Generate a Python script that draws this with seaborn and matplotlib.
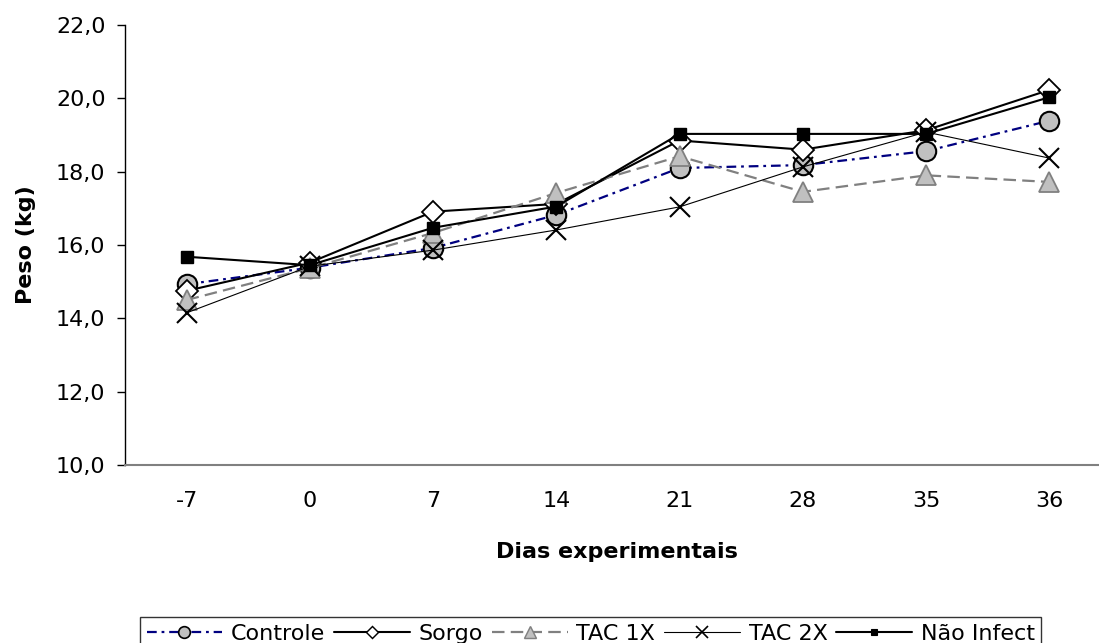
import matplotlib
matplotlib.use("Agg")
import matplotlib.pyplot as plt
import seaborn as sns
import numpy as np
from matplotlib.lines import Line2D
from matplotlib.ticker import FixedLocator, NullFormatter

days = ["-7", "0", "7", "14", "21", "28", "35", "36"]
controle = [14.93, 15.38, 15.92, 16.82, 18.10, 18.18, 18.56, 19.39]
sorgo = [14.75, 15.52, 16.91, 17.12, 18.85, 18.60, 19.13, 20.23]
tac1x = [14.50, 15.37, 16.33, 17.42, 18.42, 17.45, 17.90, 17.72]
tac2x = [14.15, 15.42, 15.86, 16.41, 17.04, 18.13, 19.08, 18.37]
nao_infect = [15.68, 15.45, 16.47, 17.05, 19.03, 19.03, 19.03, 20.03]
y_ticks = [10.0, 12.0, 14.0, 16.0, 18.0, 20.0, 22.0]

sns.set_style("white")
plt.rcParams["font.family"] = ["DejaVu Sans"]
plt.rcParams["lines.scale_dashes"] = False
for k in ["text.color", "axes.labelcolor", "xtick.color", "ytick.color"]:
    plt.rcParams[k] = "black"

FS = 16
fig = plt.figure(figsize=(10.99, 6.43), dpi=100)
ax = fig.add_axes([125 / 1099, 1 - 465 / 643, (1111 - 125) / 1099, (465 - 25) / 643])

x = np.arange(len(days))

series = [
    ("Controle", controle, dict(color="#000080", linestyle=(0, (7, 3.5, 2, 3.5)), linewidth=1.6,
                                marker="o", markersize=14, markerfacecolor="#C0C0C0",
                                markeredgecolor="black", markeredgewidth=1.5)),
    ("Sorgo", sorgo, dict(color="black", linestyle="-", linewidth=1.5,
                          marker="D", markersize=11, markerfacecolor="white",
                          markeredgecolor="black", markeredgewidth=1.3)),
    ("TAC 1X", tac1x, dict(color="#808080", linestyle=(0, (9, 4.5)), linewidth=1.6,
                           marker="^", markersize=15, markerfacecolor="#C0C0C0",
                           markeredgecolor="#808080", markeredgewidth=1.3)),
    ("TAC 2X", tac2x, dict(color="black", linestyle="-", linewidth=0.8,
                           marker="x", markersize=14, markerfacecolor="black",
                           markeredgecolor="black", markeredgewidth=1.5)),
    ("Não Infect", nao_infect, dict(color="black", linestyle="-", linewidth=1.5,
                                    marker="s", markersize=8, markerfacecolor="black",
                                    markeredgecolor="black", markeredgewidth=1)),
]

handles = []
for name, vals, kw in series:
    sns.lineplot(x=x, y=vals, ax=ax, sort=False, **kw)
    lkw = dict(kw)
    lkw["markersize"] = kw["markersize"] * 0.6
    lkw["markeredgewidth"] = kw["markeredgewidth"] * 0.8
    handles.append(Line2D([], [], **lkw))

ax.set_xlim(-0.5, len(days) - 0.5)
ax.set_ylim(10, 22)
ax.set_xticks(x)
ax.set_xticklabels(days, fontsize=FS)
ax.xaxis.set_minor_locator(FixedLocator(np.arange(-0.5, len(days), 1.0)))
ax.xaxis.set_minor_formatter(NullFormatter())
ax.tick_params(axis="x", which="major", length=0, pad=19)
ax.tick_params(axis="x", which="minor", length=6, width=1, direction="out", color="black")
ax.set_yticks(y_ticks)
ax.set_yticklabels([f"{v:.1f}".replace(".", ",") for v in y_ticks], fontsize=FS)
ax.tick_params(axis="y", length=6, width=1, direction="out", color="black", left=True, pad=8)

for s in ["top", "right"]:
    ax.spines[s].set_visible(False)
ax.spines["left"].set_color("black")
ax.spines["bottom"].set_color("#808080")
ax.spines["left"].set_linewidth(1)
ax.spines["bottom"].set_linewidth(1.5)

ax.set_xlabel("Dias experimentais", fontsize=FS, fontweight="bold")
ax.set_ylabel("Peso (kg)", fontsize=FS, fontweight="bold")
ax.xaxis.set_label_coords((617 - 125) / 986, (465 - 542) / 440)
ax.yaxis.set_label_coords((36 - 125) / 986, 0.5)

leg = fig.legend(handles, [s[0] for s in series], loc="upper left",
                 bbox_to_anchor=(140 / 1099, 1 - 617 / 643),
                 bbox_transform=fig.transFigure, ncol=5, fontsize=FS, frameon=True,
                 fancybox=False, edgecolor="black", handlelength=3.4, handletextpad=0.4,
                 columnspacing=0.4, borderpad=0.3, borderaxespad=0)
leg.get_frame().set_linewidth(1)

fig.savefig("out.png", dpi=100)
